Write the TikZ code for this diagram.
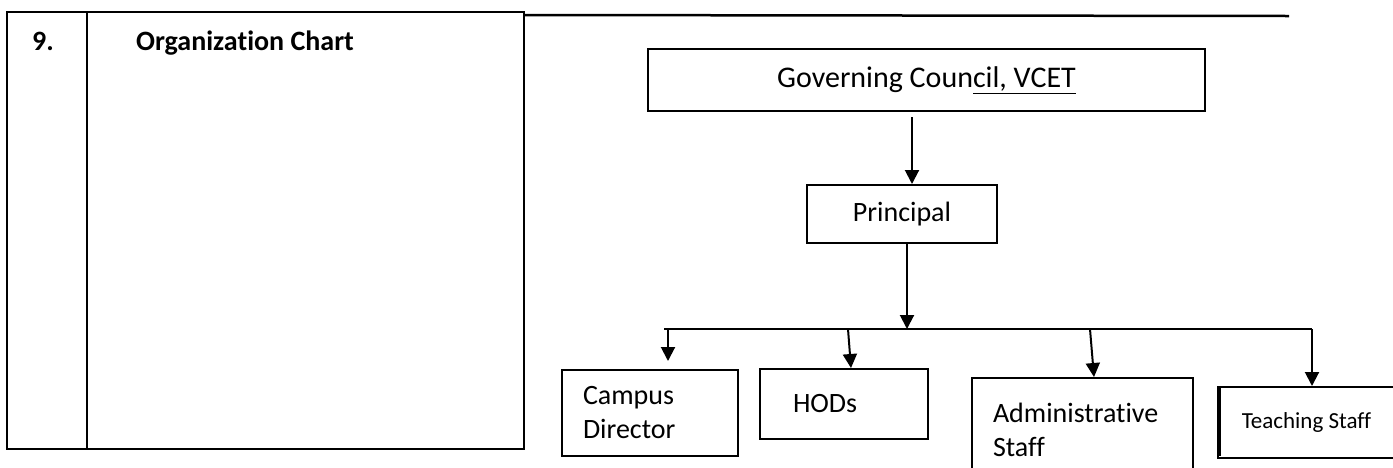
\documentclass[tikz,border=0pt]{standalone}
\usepackage{fontspec}
\setmainfont{Carlito}[Ligatures=NoCommon]
\usetikzlibrary{arrows.meta,positioning}
\tikzset{
  box/.style={draw, line width=2pt, inner ysep=0pt},
  arr/.style={line width=2pt, -{Triangle[length=14pt,width=14pt]}},
}
\begin{document}
\begin{tikzpicture}[x=1pt,y=-1pt]
\fontsize{28}{34}\selectfont
\useasboundingbox (0,0) rectangle (1393,467);

% Table cell on the left
\draw[line width=2.5pt] (7,12) rectangle (524,449);
\draw[line width=2.5pt] (87,12) -- (87,449);
\node[font=\bfseries, anchor=base] (num) at (43,50) {9.};
\node[font=\bfseries, anchor=base] (title) at (245,50) {Organization Chart};
\draw[line width=2.5pt] (523,15) -- (1289,16);

% Boxes of the chart
\node[box, minimum width=557pt, minimum height=62pt, font=\fontsize{30}{36}\selectfont] (gov) at (926.5,80) {Governing Coun\underline{cil, VCET}};
\node[box, minimum width=190pt, minimum height=58pt] (prin) at (902,214) {Principal};
\node[box, text width=134pt, inner xsep=21pt, minimum height=86pt, align=left] (campus) at (650,413) {Campus\\Director};
\node[box, text width=102pt, inner xsep=33pt, minimum height=70pt, align=left] (hods) at (844,404) {HODs};
\node[box, text width=179pt, inner xsep=21pt, minimum height=104pt, align=left] (admin) at (1082.5,430) {Administrative\\Staff};
\node[box, minimum width=177pt, minimum height=71pt, font=\fontsize{23}{28}\selectfont] (teach) at (1306.5,422.5) {Teaching Staff};
\draw[line width=1.5pt] ([xshift=3pt]teach.north west) -- ([xshift=3pt,yshift=3pt]teach.south west);

% Top of the chart
\draw[arr, shorten <=5pt] ([xshift=-14.5pt]gov.south) -- ([xshift=10pt]prin.north);

% Horizontal bar
\coordinate (barL) at (664,329);
\coordinate (barR) at (1312,329);
\coordinate (dc) at (668,329);
\coordinate (dh) at (848,329);
\coordinate (da) at (1090,329);
\draw[line width=2pt] (barL) -- (barR);
\draw[arr] ([xshift=5pt]prin.south) -- ([xshift=5pt]prin.south |- barL);

% Drops to the lower boxes
\draw[arr, shorten >=8pt] (dc) -- (dc |- campus.north);
\draw[arr] (dh) -- ([xshift=7pt]hods.north);
\draw[arr] (da) -- ([xshift=11.5pt]admin.north);
\draw[arr] (barR) -- (barR |- teach.north);

\end{tikzpicture}
\end{document}
